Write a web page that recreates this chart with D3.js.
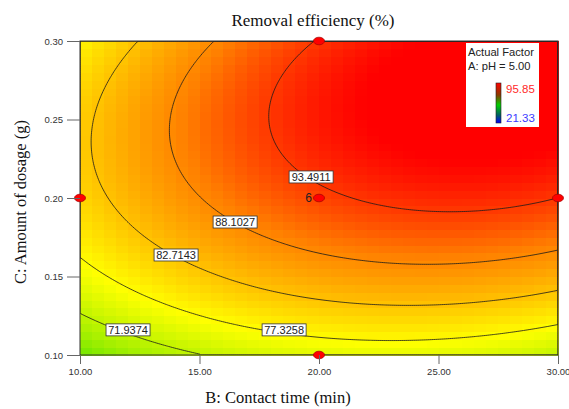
<!DOCTYPE html>
<html>
<head>
<meta charset="utf-8">
<script src="https://cdn.jsdelivr.net/npm/d3@7"></script>
<style>
  body { margin: 0; background: #fff; }
  svg text { font-family: Arial, "Liberation Sans", sans-serif; }
  .serif { font-family: "Times New Roman", "Liberation Serif", serif; }
</style>
</head>
<body>
<script>
// response model in coded factors (u = B, v = C)
const termNames = ['1', 'B', 'C', 'BC', 'B^2', 'C^2', 'B^2C', 'BC^2', 'B^3', 'C^3'];
const coefficients = [92.681, 6.640, 10.072, 3.650, -5.542, -8.575, -0.342, -0.071, -0.307, -0.479];

const levels = [71.9374, 77.3258, 82.7143, 88.1027, 93.4911];
// where the software put each contour label (B, C)
const labelTime = [12.01, 18.54, 14.02, 16.49, 19.67];
const labelDose = [0.116, 0.116, 0.1637, 0.1847, 0.2134];

const timeTicks = [10, 15, 20, 25, 30];
const doseTicks = [0.10, 0.15, 0.20, 0.25, 0.30];

// design points on this slice
const designTime = [10, 20, 30, 20, 20];
const designDose = [0.20, 0.30, 0.20, 0.10, 0.20];
const designRuns = [1, 1, 1, 1, 6];

const legendMax = 95.85, legendMin = 21.33;

const width = 569, height = 409;
const margin = { top: 41, right: 11, bottom: 54, left: 80 };
const innerWidth = width - margin.left - margin.right;
const innerHeight = height - margin.top - margin.bottom;

const terms = (u, v) => [1, u, v, u*v, u*u, v*v, u*u*v, u*v*v, u*u*u, v*v*v];
const model = (B, C) => {
  const u = (B - 20) / 10, v = (C - 0.2) / 0.1;
  return d3.sum(terms(u, v), (t, i) => t * coefficients[i]);
};

const xScale = d3.scaleLinear().domain([10, 30]).range([0, innerWidth]);
const yScale = d3.scaleLinear().domain([0.10, 0.30]).range([innerHeight, 0]);
const color = d3.scaleLinear()
  .domain([64, 70, 77, 83, 89, 94, 97])
  .range(['#40e000', '#a8f000', '#ffff00', '#ffc000', '#ff8000', '#ff3000', '#ff0000'])
  .clamp(true);

const svg = d3.select('body').append('svg')
  .attr('width', width).attr('height', height);
const plot = svg.append('g').attr('transform', `translate(${margin.left},${margin.top})`);

// colour cells, 40 x 40 like the original
const nCells = 40;
const cells = [];
for (let i = 0; i < nCells; i++) for (let j = 0; j < nCells; j++) {
  const B0 = 10 + 20 * i / nCells, B1 = 10 + 20 * (i + 1) / nCells;
  const C0 = 0.1 + 0.2 * j / nCells, C1 = 0.1 + 0.2 * (j + 1) / nCells;
  cells.push({ B0, B1, C0, C1, val: model((B0 + B1) / 2, (C0 + C1) / 2) });
}
plot.append('g').selectAll('rect').data(cells).enter().append('rect')
  .attr('x', d => xScale(d.B0)).attr('y', d => yScale(d.C1))
  .attr('width', d => xScale(d.B1) - xScale(d.B0) + 0.5)
  .attr('height', d => yScale(d.C0) - yScale(d.C1) + 0.5)
  .attr('fill', d => color(d.val))
  .attr('shape-rendering', 'crispEdges');

// contour lines
const gw = 240, gh = 160;
const grid = new Array(gw * gh);
for (let j = 0; j < gh; j++) for (let i = 0; i < gw; i++) {
  grid[j * gw + i] = model(10 + 20 * (i + 0.5) / gw, 0.30 - 0.2 * (j + 0.5) / gh);
}
const contours = d3.contours().size([gw, gh]).thresholds(levels)(grid);
const proj = d3.geoTransform({
  point: function(x, y) {
    this.stream.point(xScale(10 + 20 * x / gw), yScale(0.30 - 0.2 * y / gh));
  }
});
svg.append('clipPath').attr('id', 'clip').append('rect')
  .attr('width', innerWidth).attr('height', innerHeight);
plot.append('g').attr('clip-path', 'url(#clip)')
  .selectAll('path').data(contours).enter().append('path')
  .attr('d', d3.geoPath(proj))
  .attr('fill', 'none').attr('stroke', '#1a1a1a').attr('stroke-width', 0.8);

// contour labels
const labels = plot.append('g').selectAll('g').data(levels).enter().append('g')
  .attr('transform', (d, i) => `translate(${xScale(labelTime[i])},${yScale(labelDose[i])})`);
labels.append('rect')
  .attr('x', -22).attr('y', -6).attr('width', 44).attr('height', 12)
  .attr('fill', '#fff').attr('stroke', '#333').attr('stroke-width', 0.8);
labels.append('text')
  .attr('text-anchor', 'middle').attr('y', 4).attr('font-size', 11).attr('fill', '#222')
  .text(d => d.toFixed(4));

// plot frame
plot.append('rect').attr('width', innerWidth).attr('height', innerHeight)
  .attr('fill', 'none').attr('stroke', '#333').attr('stroke-width', 1);

// design points
const design = designTime.map((t, i) => ({ t, c: designDose[i], n: designRuns[i] }));
plot.append('g').selectAll('ellipse').data(design).enter().append('ellipse')
  .attr('cx', d => xScale(d.t)).attr('cy', d => yScale(d.c))
  .attr('rx', 5.5).attr('ry', 3.8)
  .attr('fill', '#ff0000').attr('stroke', '#a00000').attr('stroke-width', 0.7);
plot.append('g').selectAll('text').data(design.filter(d => d.n > 1)).enter().append('text')
  .attr('x', d => xScale(d.t) - 7).attr('y', d => yScale(d.c) + 4)
  .attr('text-anchor', 'end').attr('font-size', 12).attr('fill', '#222')
  .text(d => d.n);

// axes
const xAxis = d3.axisBottom(xScale).tickValues(timeTicks).tickFormat(d3.format('.2f'))
  .tickSize(9).tickSizeOuter(0).tickPadding(4);
const yAxis = d3.axisLeft(yScale).tickValues(doseTicks).tickFormat(d3.format('.2f'))
  .tickSize(13).tickSizeOuter(0).tickPadding(4);
const xg = plot.append('g').attr('transform', `translate(0,${innerHeight})`).call(xAxis);
const yg = plot.append('g').call(yAxis);
[xg, yg].forEach(g => {
  g.select('.domain').remove();
  g.selectAll('.tick line').attr('stroke', '#666');
  g.selectAll('.tick text').attr('font-size', 9.5).attr('fill', '#333')
    .attr('font-family', 'Arial, "Liberation Sans", sans-serif');
});

// titles
svg.append('text').attr('class', 'serif')
  .attr('x', 313).attr('y', 26).attr('text-anchor', 'middle')
  .attr('font-size', 17).attr('fill', '#111')
  .text('Removal efficiency (%)');
svg.append('text').attr('class', 'serif')
  .attr('x', 278).attr('y', 403).attr('text-anchor', 'middle')
  .attr('font-size', 16.5).attr('fill', '#111')
  .text('B: Contact time (min)');
svg.append('text').attr('class', 'serif')
  .attr('transform', 'translate(26,202) rotate(-90)').attr('text-anchor', 'middle')
  .attr('font-size', 16.5).attr('fill', '#111')
  .text('C: Amount of dosage (g)');

// legend box
const legend = svg.append('g').attr('transform', 'translate(466,43)');
legend.append('rect').attr('width', 73).attr('height', 84).attr('fill', '#fff');
legend.append('text').attr('x', 2).attr('y', 13).attr('font-size', 11.2).attr('fill', '#222')
  .text('Actual Factor');
legend.append('text').attr('x', 2).attr('y', 27).attr('font-size', 11.2).attr('fill', '#222')
  .text('A: pH = 5.00');
const grad = svg.append('defs').append('linearGradient').attr('id', 'bar')
  .attr('x1', 0).attr('y1', 0).attr('x2', 0).attr('y2', 1);
[['0%', '#ff0000'], ['30%', '#8a3a00'], ['55%', '#00d000'], ['80%', '#006060'], ['100%', '#0000ff']]
  .forEach(([o, c]) => grad.append('stop').attr('offset', o).attr('stop-color', c));
legend.append('rect').attr('x', 30).attr('y', 40).attr('width', 5).attr('height', 40)
  .attr('fill', 'url(#bar)').attr('stroke', '#222').attr('stroke-width', 0.6);
legend.append('text').attr('x', 40).attr('y', 50).attr('font-size', 11.5).attr('fill', '#ff2a2a')
  .text(legendMax.toFixed(2));
legend.append('text').attr('x', 40).attr('y', 79).attr('font-size', 11.5).attr('fill', '#3a3aff')
  .text(legendMin.toFixed(2));
</script>
</body>
</html>
